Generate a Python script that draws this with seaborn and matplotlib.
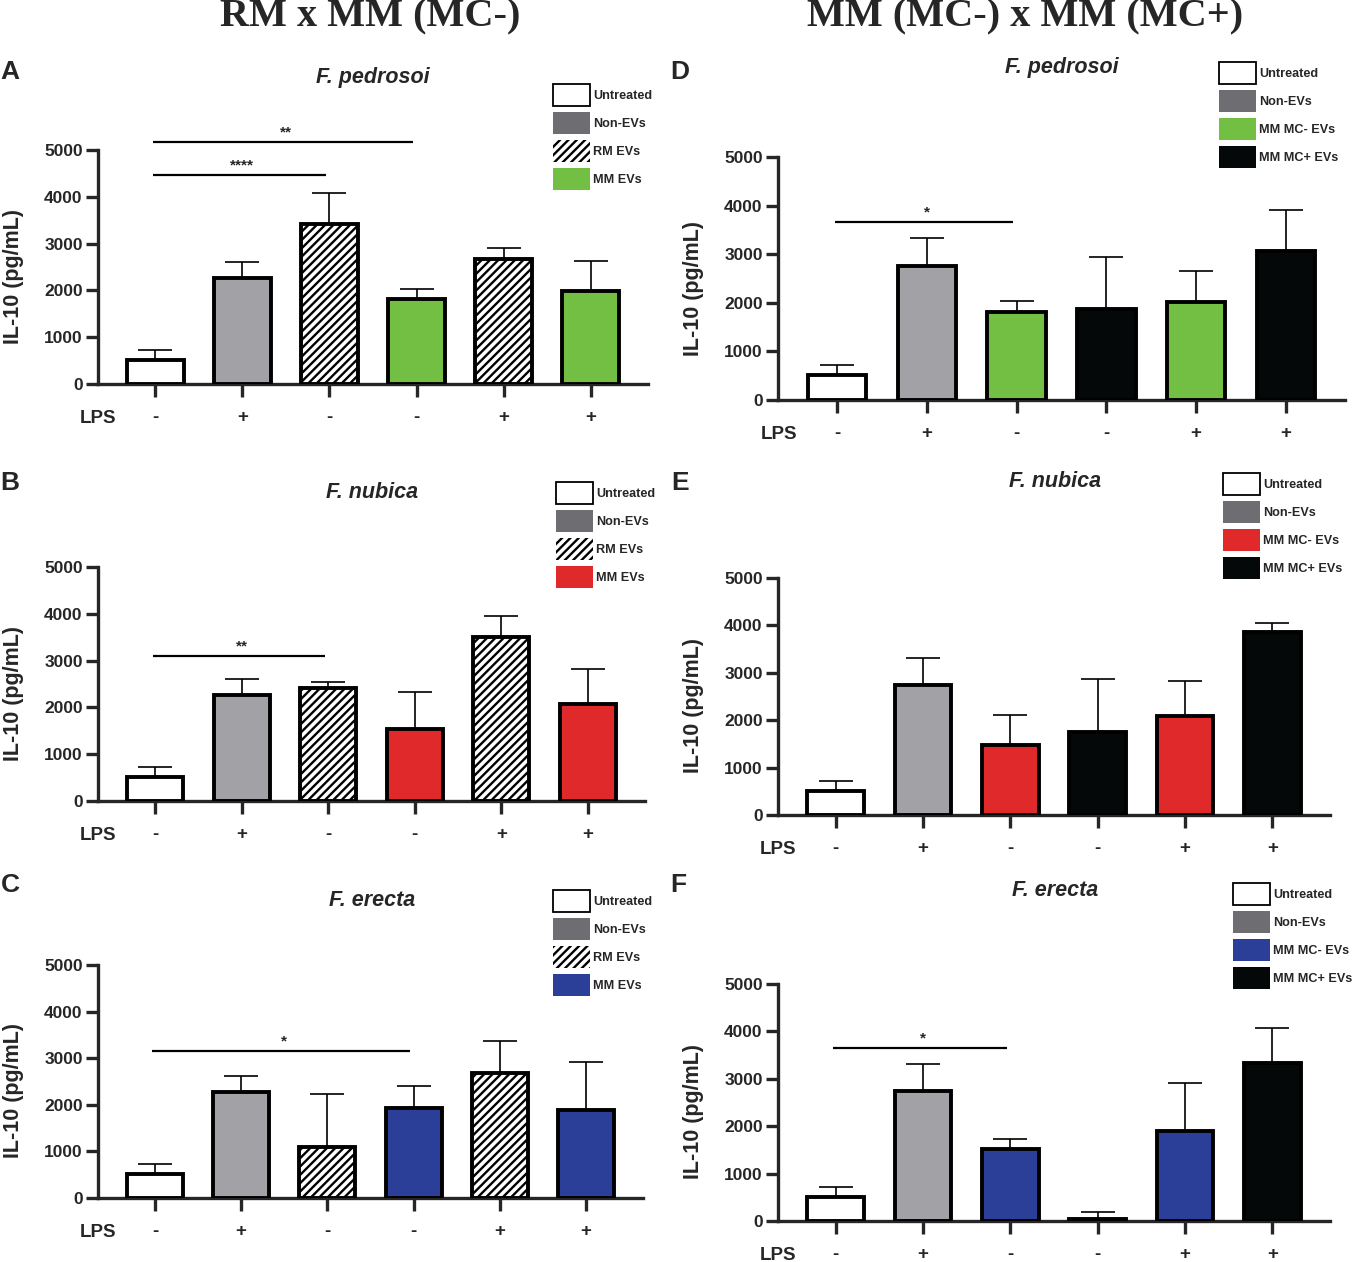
import numpy as np
import pandas as pd
import matplotlib
matplotlib.use("Agg")
import matplotlib.pyplot as plt
from matplotlib.patches import Patch
import seaborn as sns

# ---------------------------------------------------------
# data (mean and upper SD per bar)
# ---------------------------------------------------------
lps = ['-', '+', '-', '-', '+', '+']

groups_rm = ['Untreated', 'Non-EVs', 'RM EVs', 'MM EVs', 'RM EVs', 'MM EVs']
groups_mc = ['Untreated', 'Non-EVs', 'MM MC- EVs', 'MM MC+ EVs', 'MM MC- EVs', 'MM MC+ EVs']

# A - F. pedrosoi, RM x MM (MC-)
pedrosoi_rm_mean = [515, 2270, 3420, 1815, 2670, 1990]
pedrosoi_rm_sd = [215, 340, 660, 215, 235, 640]
# B - F. nubica
nubica_rm_mean = [515, 2270, 2420, 1540, 3500, 2075]
nubica_rm_sd = [215, 340, 125, 790, 450, 745]
# C - F. erecta
erecta_rm_mean = [515, 2275, 1095, 1930, 2680, 1890]
erecta_rm_sd = [215, 345, 1140, 470, 690, 1030]
# D - F. pedrosoi, MM (MC-) x MM (MC+)
pedrosoi_mc_mean = [515, 2755, 1810, 1870, 2015, 3065]
pedrosoi_mc_sd = [210, 575, 225, 1070, 640, 845]
# E - F. nubica
nubica_mc_mean = [510, 2745, 1480, 1755, 2090, 3860]
nubica_mc_sd = [210, 570, 635, 1115, 740, 190]
# F - F. erecta
erecta_mc_mean = [510, 2745, 1520, 45, 1900, 3335]
erecta_mc_sd = [210, 570, 210, 150, 1010, 740]

# significance bars: (from bar, to bar, height, stars)
sig_a = [(0, 3, 5170, '**'), (0, 2, 4470, '****')]
sig_b = [(0, 2, 3100, '**')]
sig_c = [(0, 3, 3150, '*')]
sig_d = [(0, 2, 3660, '*')]
sig_e = []
sig_f = [(0, 2, 3650, '*')]

# ---------------------------------------------------------
# styling
# ---------------------------------------------------------
W, H = 1353, 1262
bar_colors = {
    'Untreated': '#ffffff',
    'Non-EVs': '#a2a2a6',
    'RM EVs': '#ffffff',
}
legend_gray = '#6e6e72'
green, red, blue, black = '#72bf44', '#e0292b', '#2b3f99', '#050808'
HATCH = '////'

sns.set_style('ticks')
plt.rcParams['font.family'] = ['Liberation Sans', 'DejaVu Sans']
plt.rcParams['font.weight'] = 'bold'
plt.rcParams['hatch.linewidth'] = 1.7
plt.rcParams['axes.linewidth'] = 2.4

fig = plt.figure(figsize=(W / 100, H / 100), dpi=100)


def fx(px):
    return px / W


def fy(py):
    return 1 - py / H


def draw_panel(box, means, sds, groups, colors, sigs, title, title_xy,
               letter, letter_xy, leg_xy):
    left, right, top, bottom = box
    ax = fig.add_axes([fx(left), fy(bottom), (right - left) / W, (bottom - top) / H])

    df = pd.DataFrame({'bar': [f'b{i}' for i in range(len(means))],
                       'IL10': means, 'group': groups})
    pal = {b: colors[g] for b, g in zip(df['bar'], df['group'])}
    sns.barplot(data=df, x='bar', y='IL10', hue='bar', palette=pal, legend=False,
                width=0.65, saturation=1, edgecolor='black', linewidth=2.8,
                errorbar=None, ax=ax, zorder=3)
    for patch, g in zip(ax.patches, groups):
        if g.startswith('RM'):
            patch.set_hatch(HATCH)

    x = np.arange(len(means))
    ax.errorbar(x, means, yerr=[np.zeros(len(sds)), sds], fmt='none',
                ecolor='black', elinewidth=1.2, capsize=12, capthick=1.2, zorder=2)

    ax.set_xlim(-0.66, len(means) - 1 + 0.66)
    ax.set_ylim(0, 5000)
    ax.set_yticks(range(0, 5001, 1000))
    ax.set_xticks(x)
    ax.set_xticklabels(lps)
    ax.tick_params(axis='both', width=2.4, length=9, labelsize=12.5)
    ax.tick_params(axis='x', pad=9, labelsize=13.5)
    ax.tick_params(axis='y', pad=2)
    for lab in ax.get_xticklabels() + ax.get_yticklabels():
        lab.set_fontweight('bold')
    sns.despine(ax=ax)
    ax.spines['left'].set_bounds(0, 5000)

    ax.set_xlabel('')
    ax.set_ylabel('IL-10 (pg/mL)', fontsize=15.5, fontweight='bold')
    ax.yaxis.set_label_coords(-74 / (right - left), 0.46)

    ax.annotate('LPS', xy=(-0.45, 0), xycoords=('data', 'axes fraction'),
                xytext=(0, -25), textcoords='offset points',
                ha='right', va='center', fontsize=13.5, fontweight='bold')

    for i, j, h, stars in sigs:
        ax.plot([i - 0.03, j - 0.04], [h, h], color='black', lw=1.6,
                clip_on=False, solid_capstyle='butt')
        ax.annotate(stars, xy=((i + j) / 2, h), xytext=(0, 2),
                    textcoords='offset points', ha='center', va='bottom',
                    fontsize=11, fontweight='bold', annotation_clip=False)

    # legend
    handles = []
    seen = []
    for g in groups:
        if g in seen:
            continue
        seen.append(g)
        if g == 'Untreated':
            handles.append(Patch(facecolor='white', edgecolor='black', linewidth=1.3, label=g))
        elif g == 'Non-EVs':
            handles.append(Patch(facecolor=legend_gray, edgecolor='none', label=g))
        elif g.startswith('RM'):
            handles.append(Patch(facecolor='white', edgecolor='black', hatch=HATCH,
                                 linewidth=0, label=g))
        else:
            handles.append(Patch(facecolor=colors[g], edgecolor='none', label=g))
    ax.legend(handles=handles, loc='upper left',
              bbox_to_anchor=(fx(leg_xy[0]), fy(leg_xy[1])),
              bbox_transform=fig.transFigure, frameon=False,
              prop={'size': 9.1, 'weight': 'bold'}, handlelength=2.9,
              handleheight=2.3, labelspacing=0.47, handletextpad=0.3,
              borderpad=0, borderaxespad=0)

    fig.text(fx(title_xy[0]), fy(title_xy[1]), title, ha='center', va='center',
             fontsize=15.5, fontweight='bold', style='italic')
    fig.text(fx(letter_xy[0]), fy(letter_xy[1]), letter, ha='center', va='center',
             fontsize=19, fontweight='bold')
    return ax


col_rm = {**bar_colors}
draw_panel((98, 648, 150, 384), pedrosoi_rm_mean, pedrosoi_rm_sd, groups_rm,
           {**col_rm, 'MM EVs': green}, sig_a, 'F. pedrosoi', (373, 78),
           'A', (10, 72), (553, 84))
draw_panel((98, 645, 567, 801), nubica_rm_mean, nubica_rm_sd, groups_rm,
           {**col_rm, 'MM EVs': red}, sig_b, 'F. nubica', (372, 493),
           'B', (10, 483), (556, 482))
draw_panel((98, 643, 965, 1198), erecta_rm_mean, erecta_rm_sd, groups_rm,
           {**col_rm, 'MM EVs': blue}, sig_c, 'F. erecta', (372, 900),
           'C', (10, 885), (553, 890))
draw_panel((778, 1345, 157, 400), pedrosoi_mc_mean, pedrosoi_mc_sd, groups_mc,
           {**col_rm, 'MM MC- EVs': green, 'MM MC+ EVs': black}, sig_d,
           'F. pedrosoi', (1062, 67), 'D', (680, 72), (1219, 62))
draw_panel((778, 1330, 578, 815), nubica_mc_mean, nubica_mc_sd, groups_mc,
           {**col_rm, 'MM MC- EVs': red, 'MM MC+ EVs': black}, sig_e,
           'F. nubica', (1055, 481), 'E', (680, 483), (1223, 473))
draw_panel((778, 1330, 984, 1221), erecta_mc_mean, erecta_mc_sd, groups_mc,
           {**col_rm, 'MM MC- EVs': blue, 'MM MC+ EVs': black}, sig_f,
           'F. erecta', (1055, 890), 'F', (678, 885), (1233, 883))

fig.text(fx(370), fy(26), 'RM x MM (MC-)', ha='center', va='baseline',
         family='Liberation Serif', fontweight='bold', fontsize=29)
fig.text(fx(1025), fy(26), 'MM (MC-) x MM (MC+)', ha='center', va='baseline',
         family='Liberation Serif', fontweight='bold', fontsize=29)

fig.savefig('out.png', dpi=100)
